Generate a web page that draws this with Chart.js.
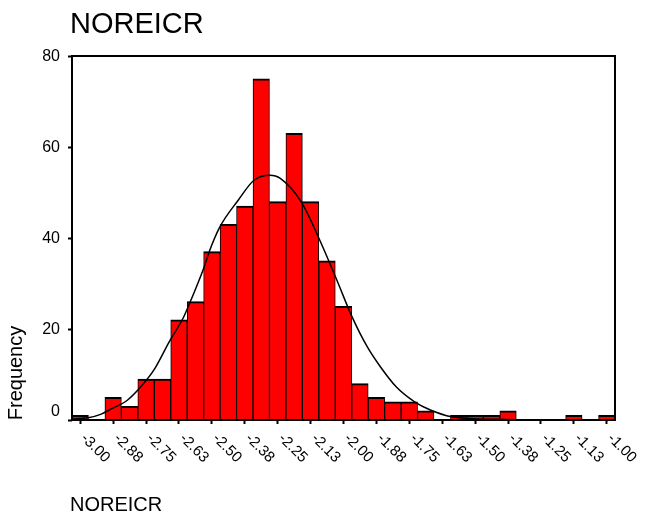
<!DOCTYPE html>
<html lang="en">
<head>
<meta charset="UTF-8">
<title>NOREICR</title>
<style>
  html, body { margin: 0; padding: 0; background: #fff; }
</style>
</head>
<body>
<canvas id="myChart" width="645" height="515"></canvas>
<script src="https://cdn.jsdelivr.net/npm/chart.js"></script>
<script>
// histogram bins (centres, width 0.0625) and frequencies
const binCenters = [-3.0000, -2.9375, -2.8750, -2.8125, -2.7500, -2.6875, -2.6250, -2.5625,
  -2.5000, -2.4375, -2.3750, -2.3125, -2.2500, -2.1875, -2.1250, -2.0625, -2.0000, -1.9375,
  -1.8750, -1.8125, -1.7500, -1.6875, -1.6250, -1.5625, -1.5000, -1.4375, -1.3750, -1.3125,
  -1.2500, -1.1875, -1.1250, -1.0625, -1.0000];
const counts = [1, 0, 5, 3, 9, 9, 22, 26, 37, 43, 47, 75, 48, 63, 48, 35, 25, 8, 5, 4,
  4, 2, 0, 1, 1, 1, 2, 0, 0, 0, 1, 0, 1];

// normal curve
const curveX = [-3.03, -2.97, -2.92, -2.89, -2.82, -2.77, -2.72, -2.66, -2.61, -2.59, -2.55, -2.53,
  -2.51, -2.47, -2.40, -2.34, -2.28, -2.24, -2.16, -2.09, -2.02, -1.97, -1.91, -1.86, -1.80,
  -1.73, -1.67, -1.59, -1.52, -1.42, -1.30];
const curveY = [0.2, 0.5, 1.3, 2.2, 4.4, 7.3, 11.0, 17.4, 22.3, 24.9, 30.5, 33.5,
  37.0, 42.4, 48.3, 52.7, 53.8, 53.1, 47.9, 39.5, 30.0, 23.0, 16.1, 11.7, 7.3,
  4.0, 2.2, 0.7, 0.35, 0.15, 0.05];

// axis ticks
const tickValues = [-3.000, -2.875, -2.750, -2.625, -2.500, -2.375, -2.250, -2.125, -2.000,
  -1.875, -1.750, -1.625, -1.500, -1.375, -1.250, -1.125, -1.000];
const tickLabels = ['-3.00', '-2.88', '-2.75', '-2.63', '-2.50', '-2.38', '-2.25', '-2.13', '-2.00',
  '-1.88', '-1.75', '-1.63', '-1.50', '-1.38', '-1.25', '-1.13', '-1.00'];
const yTicks = [0, 20, 40, 60, 80];

const FONT = '"Liberation Sans", Arial, sans-serif';

// frame + all texts (SPSS style)
const spssText = {
  id: 'spssText',
  afterDraw(chart) {
    const ctx = chart.ctx;
    const a = chart.chartArea;
    const xs = chart.scales.x, ys = chart.scales.y;
    ctx.save();
    ctx.strokeStyle = '#000';
    ctx.lineWidth = 2;
    ctx.strokeRect(a.left, a.top, a.right - a.left, a.bottom - a.top);

    ctx.fillStyle = '#000';
    ctx.font = '16px ' + FONT;
    ctx.textAlign = 'right';
    ctx.textBaseline = 'middle';
    yTicks.forEach(v => {
      const y = ys.getPixelForValue(v) + (v === 0 ? -8 : 1);
      ctx.fillText(String(v), a.left - 12, y);
    });

    ctx.font = '15px ' + FONT;
    ctx.textAlign = 'left';
    tickValues.forEach((v, i) => {
      const x = xs.getPixelForValue(v);
      ctx.save();
      ctx.translate(x + 3, a.bottom + 16);
      ctx.rotate(Math.PI / 4);
      ctx.fillText(tickLabels[i], 0, 0);
      ctx.restore();
    });

    ctx.textBaseline = 'alphabetic';
    ctx.font = '29px ' + FONT;
    ctx.fillText('NOREICR', 70, 33);
    ctx.font = '20px ' + FONT;
    ctx.fillText('NOREICR', 70, 511);

    ctx.translate(22, 373);
    ctx.rotate(-Math.PI / 2);
    ctx.textAlign = 'center';
    ctx.fillText('Frequency', 0, 0);
    ctx.restore();
  }
};

const tickGrid = {
  drawOnChartArea: false,
  drawTicks: true,
  offset: false,
  tickLength: 4,
  tickWidth: 2,
  tickColor: '#000'
};

new Chart(document.getElementById('myChart'), {
  type: 'bar',
  data: {
    datasets: [{
      type: 'line',
      data: curveX.map((x, i) => ({ x: x, y: curveY[i] })),
      borderColor: '#000',
      borderWidth: 1.5,
      pointRadius: 0,
      cubicInterpolationMode: 'monotone',
      order: 1
    }, {
      data: binCenters.map((x, i) => ({ x: x, y: counts[i] })),
      backgroundColor: '#ff0000',
      borderColor: '#000',
      borderWidth: { top: 2, left: 1, right: 1, bottom: 0 },
      borderSkipped: false,
      barPercentage: 1,
      categoryPercentage: 1,
      order: 2
    }]
  },
  options: {
    responsive: false,
    animation: false,
    layout: { padding: { left: 62, top: 56, right: 30, bottom: 0 } },
    plugins: {
      legend: { display: false },
      tooltip: { enabled: false }
    },
    scales: {
      x: {
        type: 'linear',
        min: -3.03125,
        max: -0.96875,
        offset: false,
        afterBuildTicks: s => { s.ticks = tickValues.map(v => ({ value: v })); },
        afterFit: s => { s.height = 95; },
        ticks: { display: false },
        grid: tickGrid,
        border: { display: false }
      },
      y: {
        min: 0,
        max: 80,
        afterBuildTicks: s => { s.ticks = yTicks.map(v => ({ value: v })); },
        afterFit: s => { s.width = 10; },
        ticks: { display: false },
        grid: tickGrid,
        border: { display: false }
      }
    }
  },
  plugins: [spssText]
});
</script>
</body>
</html>
